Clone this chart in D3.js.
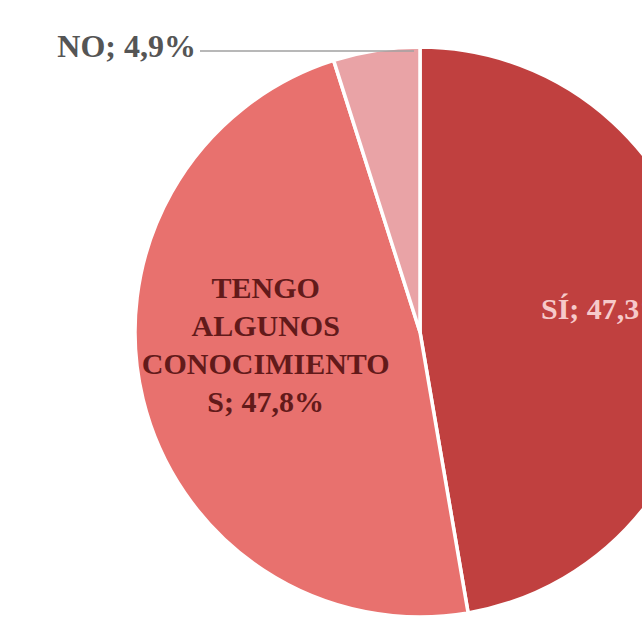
<!DOCTYPE html>
<html>
<head>
<meta charset="utf-8">
<script src="https://cdn.jsdelivr.net/npm/d3@7"></script>
<style>
  html, body { margin: 0; padding: 0; background: #ffffff; }
  svg { display: block; }
</style>
</head>
<body>
<svg id="chart" width="642" height="619"></svg>
<script>
// Survey answers, clockwise from 12 o'clock
const categories = ["SÍ", "TENGO ALGUNOS CONOCIMIENTOS", "NO"];
const values = [47.3, 47.8, 4.9];
const labelLines = [
  ["SÍ; 47,3%"],
  ["TENGO", "ALGUNOS", "CONOCIMIENTO", "S; 47,8%"],
  ["NO; 4,9%"]
];
const colors = ["#c0403f", "#e8716e", "#e9a3a6"];
const textColors = ["#f6caca", "#621a1a", "#555555"];

const svg = d3.select("#chart");
const cx = 420, cy = 332, r = 285;

const pie = d3.pie().sort(null).value(d => d.value).startAngle(0).endAngle(2 * Math.PI);
const arcs = pie(categories.map((c, i) => ({ name: c, value: values[i], idx: i })));
const arc = d3.arc().innerRadius(0).outerRadius(r);

const g = svg.append("g").attr("transform", `translate(${cx},${cy})`);

g.selectAll("path.slice")
  .data(arcs)
  .join("path")
  .attr("class", "slice")
  .attr("d", arc)
  .attr("fill", d => colors[d.data.idx])
  .attr("stroke", "#ffffff")
  .attr("stroke-width", 3.5)
  .attr("stroke-linejoin", "round");

const font = "'Liberation Serif', 'Times New Roman', serif";

// Inside labels for the two large slices, placed around each slice's centroid
const inner = d3.arc().innerRadius(r * 0.55).outerRadius(r * 0.55);
const nudges = [[29, -10], [-2, -24]];
arcs.slice(0, 2).forEach((d, k) => {
  const lines = labelLines[d.data.idx];
  const [px, py] = inner.centroid(d);
  const lineH = 38;
  const t = g.append("text")
    .attr("text-anchor", "middle")
    .attr("font-family", font)
    .attr("font-weight", "bold")
    .attr("font-size", 30)
    .attr("fill", textColors[d.data.idx]);
  const y0 = py - (lines.length - 1) * lineH / 2 + 10 + nudges[k][1];
  lines.forEach((ln, j) => {
    t.append("tspan")
      .attr("x", px + nudges[k][0])
      .attr("y", y0 + j * lineH)
      .text(ln);
  });
});

// Outside label for the small slice with a leader line
const small = arcs[2];
const topY = -r + 4;
g.append("line")
  .attr("x1", 200 - cx)
  .attr("y1", topY)
  .attr("x2", -6)
  .attr("y2", topY)
  .attr("stroke", "#a0a0a0")
  .attr("stroke-width", 1.5);

g.append("text")
  .attr("x", 196 - cx)
  .attr("y", topY + 6)
  .attr("text-anchor", "end")
  .attr("font-family", font)
  .attr("font-weight", "bold")
  .attr("font-size", 32)
  .attr("fill", textColors[small.data.idx])
  .text(labelLines[small.data.idx][0]);
</script>
</body>
</html>
